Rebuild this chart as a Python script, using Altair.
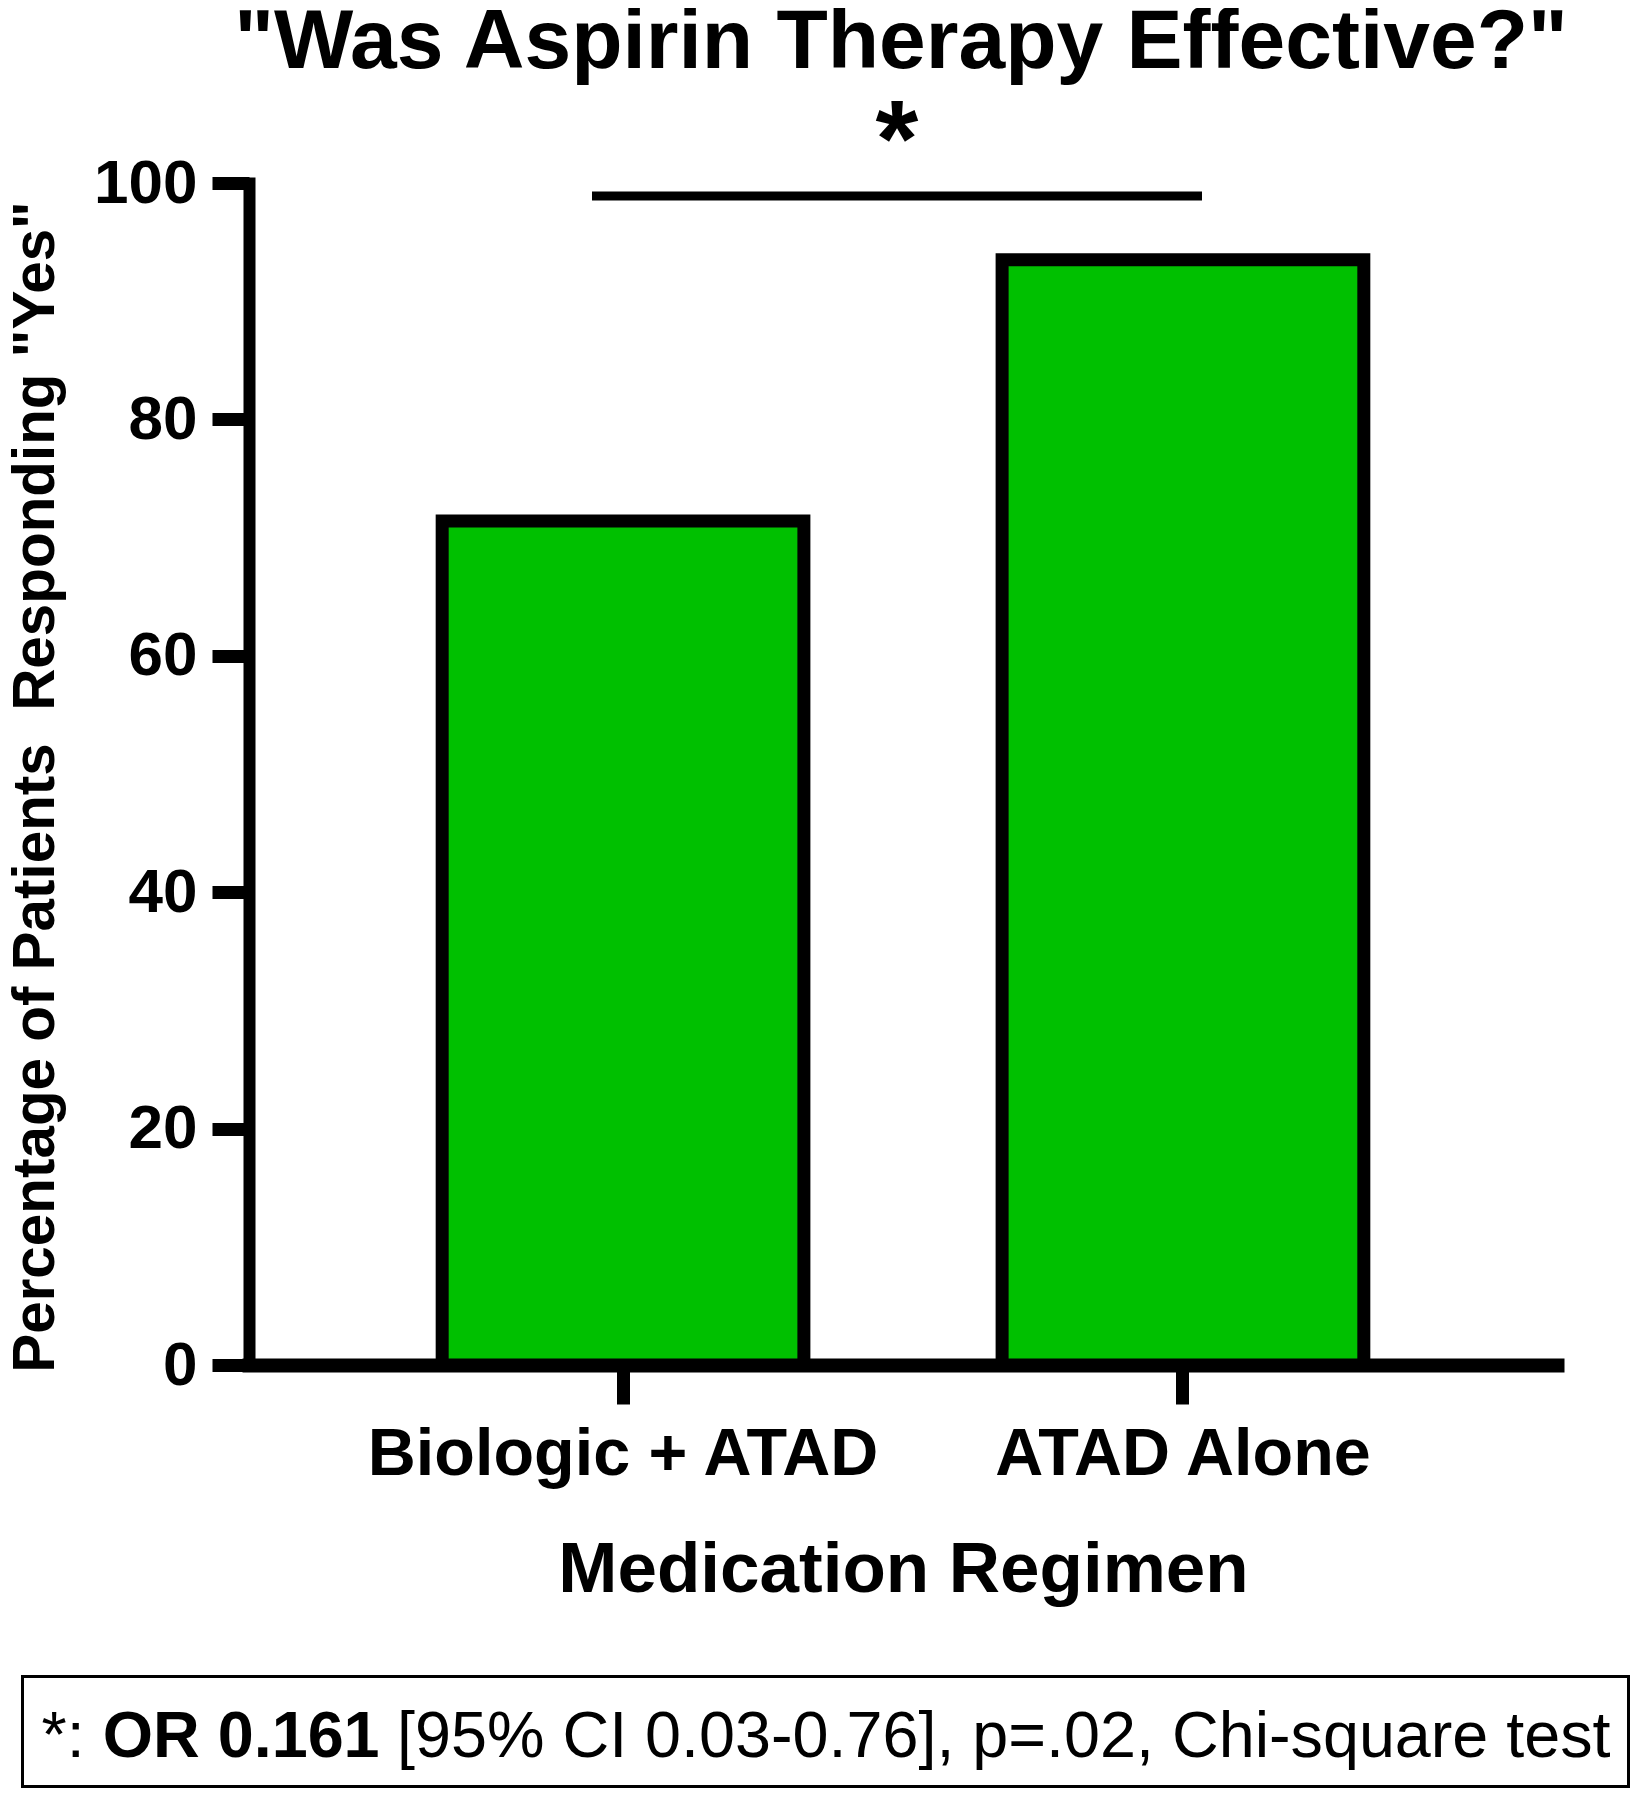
import altair as alt
import pandas as pd

# ---- data ----
categories = ["Biologic + ATAD", "ATAD Alone"]
percent_yes = [71.4, 93.5]
y_ticks = [0, 20, 40, 60, 80, 100]

title_text = '"Was Aspirin Therapy Effective?"'
x_title = "Medication Regimen"
y_title = 'Percentage of Patients\u00a0 Responding "Yes"'

sig_label = ["*"]
sig_line_level = [98.9]
sig_label_level = [100.6]

footnote_parts = ["*:", "OR 0.161", "[95% CI 0.03-0.76], p=.02, Chi-square test"]

FONT = "Liberation Sans, Arial, Helvetica, sans-serif"
W, H = 1308, 1182
GREEN = "#00C000"

df = pd.DataFrame({"regimen": categories, "pct": percent_yes})

x_axis = alt.Axis(
    labelAngle=0, labelFont=FONT, labelFontSize=66.5, labelFontWeight="bold",
    labelColor="black", labelBaseline="alphabetic", labelPadding=70, labelLimit=0,
    tickSize=39, tickWidth=13, tickColor="black",
    domainColor="black", domainWidth=14, domainCap="square",
    titleFont=FONT, titleFontSize=71, titleFontWeight="bold", titleColor="black",
    titleBaseline="alphabetic", titleY=226, titleLimit=0,
)
y_axis = alt.Axis(
    values=y_ticks, grid=False, labelFont=FONT, labelFontSize=62,
    labelFontWeight="bold", labelColor="black", labelPadding=15,
    tickSize=37, tickWidth=13, tickColor="black",
    domainColor="black", domainWidth=12, domainCap="square",
    titleFont=FONT, titleFontSize=58.4, titleFontWeight="bold", titleColor="black",
    titleBaseline="alphabetic", titleAngle=270, titleAlign="center",
    titleX=-196, titleY=603.5, titleLimit=0,
)

x_enc = alt.X("regimen:N", sort=categories, title=x_title,
              scale=alt.Scale(paddingInner=0.354, paddingOuter=0.345),
              axis=x_axis)
y_enc = alt.Y("pct:Q", title=y_title,
              scale=alt.Scale(domain=[0, 100], nice=False, zero=True),
              axis=y_axis)

bars = alt.Chart(df).mark_bar(
    color=GREEN, stroke="black", strokeWidth=13, strokeJoin="miter"
).encode(x=x_enc, y=y_enc)

sig_line = alt.Chart(pd.DataFrame({"pct": sig_line_level})).mark_rule(
    color="black", strokeWidth=9, strokeCap="butt"
).encode(x=alt.value(343), x2=alt.value(953), y=y_enc)

sig_star = alt.Chart(pd.DataFrame({"pct": sig_label_level, "label": sig_label})).mark_text(
    font=FONT, fontSize=110, fontWeight="bold", color="black",
    align="center", baseline="alphabetic"
).encode(x=alt.value(648), y=y_enc, text="label:N")

title = alt.Chart(pd.DataFrame({"t": [title_text]})).mark_text(
    font=FONT, fontSize=84, fontWeight="bold", color="black",
    align="center", baseline="alphabetic", limit=0
).encode(x=alt.value(652), y=alt.value(-115), text="t:N")

box = alt.Chart(pd.DataFrame({"k": [0]})).mark_rect(
    fill="white", fillOpacity=0, stroke="black", strokeWidth=3
).encode(x=alt.value(-226.5), x2=alt.value(1379.5),
         y=alt.value(1493.5), y2=alt.value(1603.5))

foot1 = alt.Chart(pd.DataFrame({"t": [footnote_parts[0]]})).mark_text(
    font=FONT, fontSize=64.7, fontWeight="normal", color="black",
    align="left", baseline="alphabetic"
).encode(x=alt.value(-207.5), y=alt.value(1574), text="t:N")

foot2 = alt.Chart(pd.DataFrame({"t": [footnote_parts[1]]})).mark_text(
    font=FONT, fontSize=64.7, fontWeight="bold", color="black",
    align="left", baseline="alphabetic"
).encode(x=alt.value(-146.3), y=alt.value(1574), text="t:N")

foot3 = alt.Chart(pd.DataFrame({"t": [footnote_parts[2]]})).mark_text(
    font=FONT, fontSize=64.7, fontWeight="normal", color="black",
    align="left", baseline="alphabetic"
).encode(x=alt.value(148), y=alt.value(1574), text="t:N")

chart = alt.layer(bars, sig_line, sig_star, title, box, foot1, foot2, foot3).properties(
    width=W, height=H,
    autosize=alt.AutoSizeParams(type="none"),
    padding={"left": 241, "top": 175, "right": 77, "bottom": 427},
    background="white",
).configure_view(stroke=None)

chart.save("out.html", embed_options={"renderer": "svg", "actions": False})
